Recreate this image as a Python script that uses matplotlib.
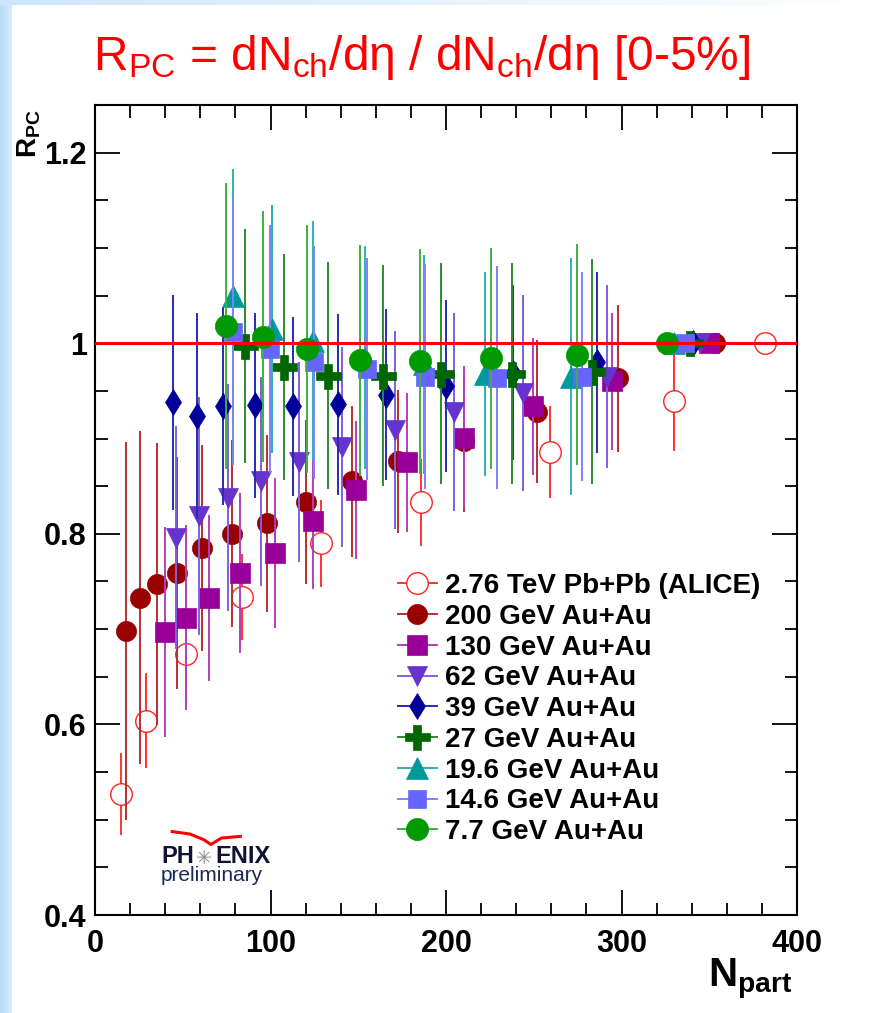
"""R_PC versus N_part for several collision energies (PHENIX preliminary style)."""

import matplotlib
matplotlib.use("Agg")
import matplotlib.pyplot as plt
import numpy as np
from matplotlib.colors import LinearSegmentedColormap
from matplotlib.lines import Line2D
from matplotlib.ticker import FuncFormatter, MultipleLocator

# values
alice_npart = [15, 29, 52, 84, 129, 186, 259, 330, 382]
alice_rpc = [0.527, 0.604, 0.674, 0.734, 0.790, 0.833, 0.886, 0.939, 1.0]
alice_err = [0.043, 0.050, 0.046, 0.045, 0.046, 0.046, 0.048, 0.052, 0.0]

au200_npart = [17.7, 25.6, 35.3, 46.7, 61, 78, 98, 120, 146.4, 172.6, 210, 252, 298, 353]
au200_rpc = [0.698, 0.733, 0.747, 0.759, 0.785, 0.800, 0.811, 0.833, 0.855, 0.876, 0.897, 0.928, 0.963, 1.0]
au200_err = [0.198, 0.175, 0.148, 0.122, 0.108, 0.098, 0.093, 0.086, 0.079, 0.075, 0.074, 0.075, 0.077, 0.0]

au130_npart = [40, 52, 65, 82.6, 102.6, 124, 149, 178, 210, 249.6, 294.6, 350]
au130_rpc = [0.697, 0.712, 0.733, 0.759, 0.780, 0.813, 0.846, 0.875, 0.901, 0.934, 0.960, 1.0]
au130_err = [0.110, 0.097, 0.087, 0.084, 0.079, 0.071, 0.072, 0.073, 0.075, 0.072, 0.072, 0.0]

au62_npart = [46, 59, 76, 94.6, 116, 141, 171, 204.5, 244, 292, 345]
au62_rpc = [0.796, 0.819, 0.838, 0.855, 0.875, 0.891, 0.909, 0.928, 0.948, 0.965, 1.0]
au62_err = [0.117, 0.125, 0.119, 0.110, 0.105, 0.105, 0.104, 0.104, 0.103, 0.096, 0.0]

au39_npart = [44.4, 58, 73, 91, 113, 138.5, 166, 200, 238, 286, 341]
au39_rpc = [0.938, 0.924, 0.934, 0.935, 0.934, 0.936, 0.946, 0.955, 0.969, 0.980, 1.0]
au39_err = [0.113, 0.108, 0.104, 0.097, 0.094, 0.095, 0.090, 0.090, 0.092, 0.095, 0.0]

au27_npart = [85.5, 107.7, 132.8, 164, 197, 237.6, 283, 339]
au27_rpc = [0.997, 0.975, 0.966, 0.966, 0.968, 0.968, 0.970, 1.0]
au27_err = [0.123, 0.119, 0.119, 0.116, 0.116, 0.116, 0.118, 0.0]

au19_npart = [78.6, 101, 124, 154, 187.5, 222, 271, 330]
au19_rpc = [1.050, 1.015, 1.002, 0.985, 0.978, 0.968, 0.965, 1.0]
au19_err = [0.133, 0.130, 0.126, 0.117, 0.115, 0.107, 0.124, 0.0]

au14_npart = [78.6, 99.7, 125, 155, 188, 229, 277.5, 336]
au14_rpc = [1.012, 0.994, 0.980, 0.973, 0.965, 0.964, 0.965, 1.0]
au14_err = [0.140, 0.130, 0.122, 0.116, 0.118, 0.117, 0.110, 0.0]

au7_npart = [74.6, 95.7, 120.8, 151, 185, 225.6, 274.6, 326]
au7_rpc = [1.018, 1.007, 0.994, 0.982, 0.981, 0.984, 0.988, 1.0]
au7_err = [0.150, 0.132, 0.130, 0.121, 0.118, 0.116, 0.116, 0.0]

labels = [
    "2.76 TeV Pb+Pb (ALICE)",
    "200 GeV Au+Au",
    "130 GeV Au+Au",
    "62 GeV Au+Au",
    "39 GeV Au+Au",
    "27 GeV Au+Au",
    "19.6 GeV Au+Au",
    "14.6 GeV Au+Au",
    "7.7 GeV Au+Au",
]

# marker, size, face colour, bar colour
STYLES = [
    ("o", 15.5, "white", "#ff3333"),
    ("o", 14.5, "#990000", "#b83030"),
    ("s", 14.0, "#990099", "#b040b8"),
    ("v", 14.5, "#6633cc", "#8060e0"),
    ("d", 13.5, "#000099", "#2a2ab0"),
    ("P", 18.0, "#006600", "#2e8a2e"),
    ("^", 16.0, "#009999", "#30b0b0"),
    ("s", 13.0, "#6666ff", "#8080ff"),
    ("o", 16.0, "#009900", "#40b040"),
]

plt.rcParams["font.family"] = ["Liberation Sans", "DejaVu Sans"]
plt.rcParams["mathtext.fontset"] = "custom"
plt.rcParams["mathtext.rm"] = "Liberation Sans"
plt.rcParams["mathtext.it"] = "Liberation Sans:italic"
plt.rcParams["mathtext.bf"] = "Liberation Sans:bold"


def add_slide_strips(fig):
    """Light blue slide border at left and top."""
    left = fig.add_axes([0, 0, 12 / 877, 1])
    left.imshow(np.linspace(0, 1, 20)[None, :], aspect="auto",
                cmap=LinearSegmentedColormap.from_list("l", ["#bcdcf6", "#d6eafb"]))
    left.axis("off")
    top = fig.add_axes([0, 1 - 5 / 1013, 1, 5 / 1013])
    top.imshow(np.linspace(0, 1, 200)[None, :], aspect="auto",
               cmap=LinearSegmentedColormap.from_list("t", ["#cfe6fa", "#ffffff"]))
    top.axis("off")


def main():
    fig = plt.figure(figsize=(8.77, 10.13), dpi=100)
    add_slide_strips(fig)
    ax = fig.add_axes([95 / 877, 98 / 1013, 702 / 877, 810 / 1013])

    series = [
        (alice_npart, alice_rpc, alice_err),
        (au200_npart, au200_rpc, au200_err),
        (au130_npart, au130_rpc, au130_err),
        (au62_npart, au62_rpc, au62_err),
        (au39_npart, au39_rpc, au39_err),
        (au27_npart, au27_rpc, au27_err),
        (au19_npart, au19_rpc, au19_err),
        (au14_npart, au14_rpc, au14_err),
        (au7_npart, au7_rpc, au7_err),
    ]

    handles = []
    for i, ((x, y, err), (marker, ms, face, bar), label) in enumerate(zip(series, STYLES, labels)):
        edge = "#ff2222" if face == "white" else face
        mew = 1.0 if face == "white" else 0.5
        ax.errorbar(x, y, yerr=err, fmt=marker, ms=ms, mfc=face, mec=edge, mew=mew,
                    ecolor=bar, elinewidth=1.4, capsize=0, zorder=2 + i)
        handles.append(Line2D([], [], color=bar, lw=1.4, marker=marker, ms=ms, mfc=face, mec=edge,
                              mew=mew, label=label))

    ax.axhline(1.0, color="#ff0000", lw=2.2, zorder=20)

    ax.set_xlim(0, 400)
    ax.set_ylim(0.4, 1.25)
    ax.xaxis.set_major_locator(MultipleLocator(100))
    ax.xaxis.set_minor_locator(MultipleLocator(20))
    ax.yaxis.set_major_locator(MultipleLocator(0.2))
    ax.yaxis.set_minor_locator(MultipleLocator(0.05))
    ax.yaxis.set_major_formatter(FuncFormatter(lambda v, _: f"{v:g}"))
    ax.tick_params(which="both", direction="in", top=True, right=True, width=1.3, labelsize=22)
    ax.tick_params(which="major", length=18, pad=6)
    ax.tick_params(which="minor", length=9)
    ax.tick_params(axis="x", which="major", pad=10)
    for lab in ax.get_xticklabels() + ax.get_yticklabels():
        lab.set_fontweight("bold")
    for spine in ax.spines.values():
        spine.set_linewidth(1.5)

    ax.text(-0.093, 0.995, r"$\mathbf{R}_{\mathbf{PC}}$", rotation=90, ha="center", va="top",
            fontsize=20, transform=ax.transAxes)
    ax.text(0.994, -0.088, r"$\mathbf{N}_{\mathbf{part}}$", ha="right", va="baseline",
            fontsize=29, transform=ax.transAxes)

    fig.text(0.481, 0.931, r"R$_{\mathrm{PC}}$ = dN$_{\mathrm{ch}}$/dη / dN$_{\mathrm{ch}}$/dη [0-5%]",
             ha="center", va="baseline", color="#ff0000", fontsize=34.5)

    ax.legend(handles=handles, loc="upper left", bbox_to_anchor=(0.4316, 0.422), frameon=False,
              prop={"weight": "bold", "size": 20}, handlelength=1.4, handletextpad=0.3,
              labelspacing=0.17, borderpad=0, borderaxespad=0)

    # PHENIX preliminary logo
    ax.plot([0.11, 0.135, 0.155, 0.165, 0.18, 0.207], [0.103, 0.1, 0.093, 0.087, 0.095, 0.097],
            color="#ff0000", lw=2.2, transform=ax.transAxes, zorder=30)
    ax.text(0.095, 0.064, "PH", fontsize=17, weight="bold", color="#111133", transform=ax.transAxes,
            va="baseline")
    ax.text(0.156, 0.063, "✳", fontsize=14, color="#888888", family=["DejaVu Sans"], transform=ax.transAxes,
            va="baseline", ha="center")
    ax.text(0.172, 0.064, "ENIX", fontsize=17, weight="bold", color="#111133", transform=ax.transAxes,
            va="baseline")
    ax.text(0.094, 0.042, "preliminary", fontsize=15, color="#1a2a55", transform=ax.transAxes,
            va="baseline")

    fig.savefig("out.png", dpi=100, facecolor="white")
    return 0


if __name__ == "__main__":
    raise SystemExit(main())
